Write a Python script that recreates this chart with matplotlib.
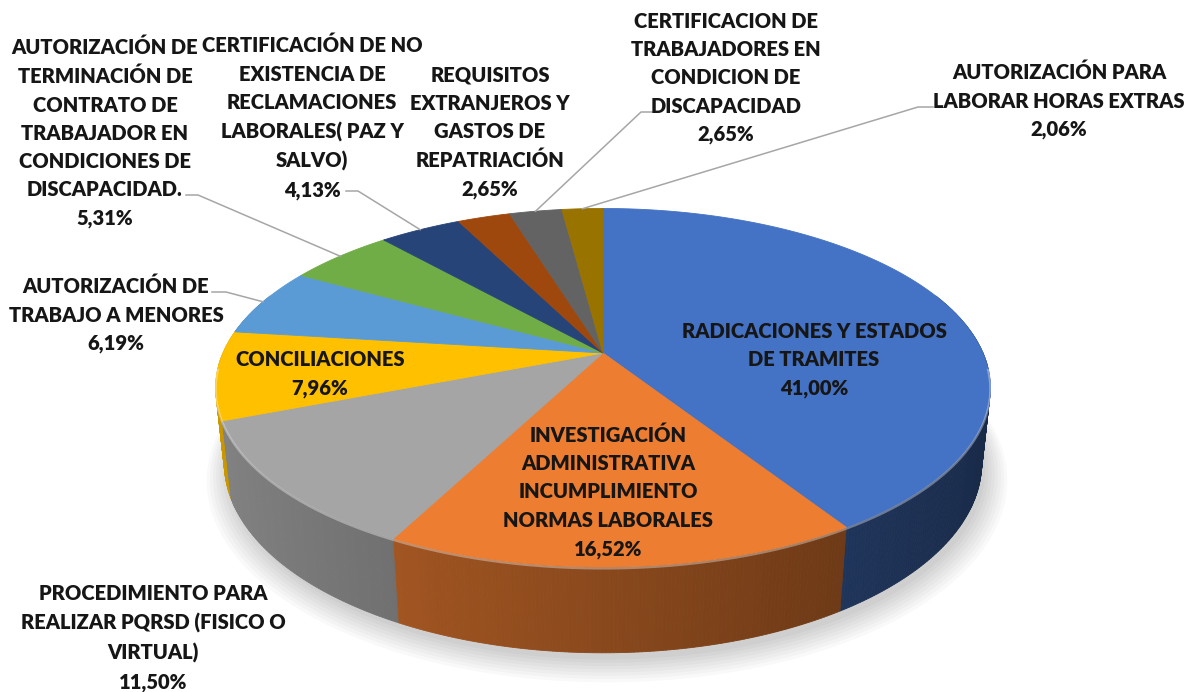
import numpy as np
import matplotlib
import matplotlib.pyplot as plt
from matplotlib.patches import Polygon
from matplotlib.colors import to_rgb

# datos del grafico
categorias = [
    "RADICACIONES Y ESTADOS\nDE TRAMITES",
    "INVESTIGACIÓN\nADMINISTRATIVA\nINCUMPLIMIENTO\nNORMAS LABORALES",
    "PROCEDIMIENTO PARA\nREALIZAR PQRSD (FISICO O\nVIRTUAL)",
    "CONCILIACIONES",
    "AUTORIZACIÓN DE\nTRABAJO A MENORES",
    "AUTORIZACIÓN DE\nTERMINACIÓN DE\nCONTRATO DE\nTRABAJADOR EN\nCONDICIONES DE\nDISCAPACIDAD.",
    "CERTIFICACIÓN DE NO\nEXISTENCIA DE\nRECLAMACIONES\nLABORALES( PAZ Y\nSALVO)",
    "REQUISITOS\nEXTRANJEROS Y\nGASTOS DE\nREPATRIACIÓN",
    "CERTIFICACION DE\nTRABAJADORES EN\nCONDICION DE\nDISCAPACIDAD",
    "AUTORIZACIÓN PARA\nLABORAR HORAS EXTRAS",
]
porcentajes = [41.00, 16.52, 11.50, 7.96, 6.19, 5.31, 4.13, 2.65, 2.65, 2.06]
colores = ["#4472C4", "#ED7D31", "#A5A5A5", "#FFC000", "#5B9BD5",
           "#70AD47", "#264478", "#9E480E", "#636363", "#997300"]

# posiciones de etiquetas (centro del bloque) y guias
pos_etiquetas = [(814, 360), (608, 492), (153, 638), (320, 374), (116, 315),
                 (105, 133), (312, 118), (490, 132), (726, 78), (1059, 101)]
guias = {4: [(212, 292), (226, 292)],
         5: [(186, 195), (198, 195)],
         6: [(346, 191), (358, 191)],
         8: [(655, 112), (641, 112)],
         9: [(933, 107), (918, 107)]}

# camara de la torta 3D
W, H = 1195, 692
CX, CY = 603, 353
FOC, DIST = 1748.0, 4.6
ALFA = np.radians(27)
GROSOR = 0.224


def proyectar(theta, h=0.0, r=1.0):
    u = r * np.sin(theta)
    w = -r * np.cos(theta)
    yc = h * np.cos(ALFA) - w * np.sin(ALFA)
    zc = DIST - (w * np.cos(ALFA) + h * np.sin(ALFA))
    return CX + FOC * u / zc, CY - FOC * yc / zc, zc


fig = plt.figure(figsize=(W / 100, H / 100), dpi=100)
ax = fig.add_axes([0, 0, 1, 1])
ax.set_xlim(0, W)
ax.set_ylim(H, 0)
ax.axis("off")

total = sum(porcentajes)
limites = np.concatenate([[0], np.cumsum(porcentajes)]) / total * 2 * np.pi

# sombra suave
tt = np.linspace(0, 2 * np.pi, 300)
for k in range(8):
    sx, sy, _ = proyectar(tt, -GROSOR - 0.01, 1.0 + 0.008 * k)
    ax.add_patch(Polygon(np.column_stack([sx + 4, sy + 3 + k]), closed=True,
                         facecolor="#000000", alpha=0.025, lw=0, zorder=1))

# paredes laterales
segmentos = []
for i, col in enumerate(colores):
    t = np.linspace(limites[i], limites[i + 1], max(4, int(np.degrees(limites[i + 1] - limites[i]) * 2)))
    base = np.array(to_rgb(col))
    for a, b in zip(t[:-1], t[1:]):
        if -np.cos((a + b) / 2) < -0.35:
            continue
        x0, y0, z0 = proyectar(a)
        x1, y1, z1 = proyectar(b)
        x2, y2, _ = proyectar(b, -GROSOR)
        x3, y3, _ = proyectar(a, -GROSOR)
        u = np.sin((a + b) / 2)
        f = np.clip(0.58 - 0.22 * u, 0.3, 0.85)
        segmentos.append(((z0 + z1) / 2, [(x0, y0), (x1, y1), (x2, y2), (x3, y3)], base * f))

segmentos.sort(key=lambda s: -s[0])
for _, pts, c in segmentos:
    ax.add_patch(Polygon(pts, closed=True, facecolor=c, edgecolor=c, lw=0.6, zorder=2))

# caras superiores
for i, col in enumerate(colores):
    t = np.linspace(limites[i], limites[i + 1], 200)
    px, py, _ = proyectar(t)
    pts = np.column_stack([np.r_[CX, px], np.r_[CY, py]])
    ax.add_patch(Polygon(pts, closed=True, facecolor=col, edgecolor=col, lw=0.6, zorder=3))

# brillo del borde frontal
tf = np.linspace(np.radians(95), np.radians(265), 200)
bx, by, _ = proyectar(tf)
ax.plot(bx, by + 1.5, color="white", alpha=0.35, lw=1.6, zorder=4)

# etiquetas
plt.rcParams["font.family"] = ["Lato", "DejaVu Sans"]
for i, (nom, val) in enumerate(zip(categorias, porcentajes)):
    txt = nom + "\n" + f"{val:.2f}".replace(".", ",") + "%"
    x, y = pos_etiquetas[i]
    ax.text(x, y, txt, ha="center", va="center", multialignment="center",
            fontsize=14.5, fontweight="heavy", color="#161616", linespacing=1.58, zorder=6)

# lineas guia hacia el punto medio de cada porcion
for i, pts in guias.items():
    mx, my, _ = proyectar((limites[i] + limites[i + 1]) / 2)
    xs = [p[0] for p in pts] + [mx]
    ys = [p[1] for p in pts] + [my]
    ax.plot(xs, ys, color="#a6a6a6", lw=1.1, zorder=5)

fig.savefig("out.png", dpi=100, facecolor="white")
